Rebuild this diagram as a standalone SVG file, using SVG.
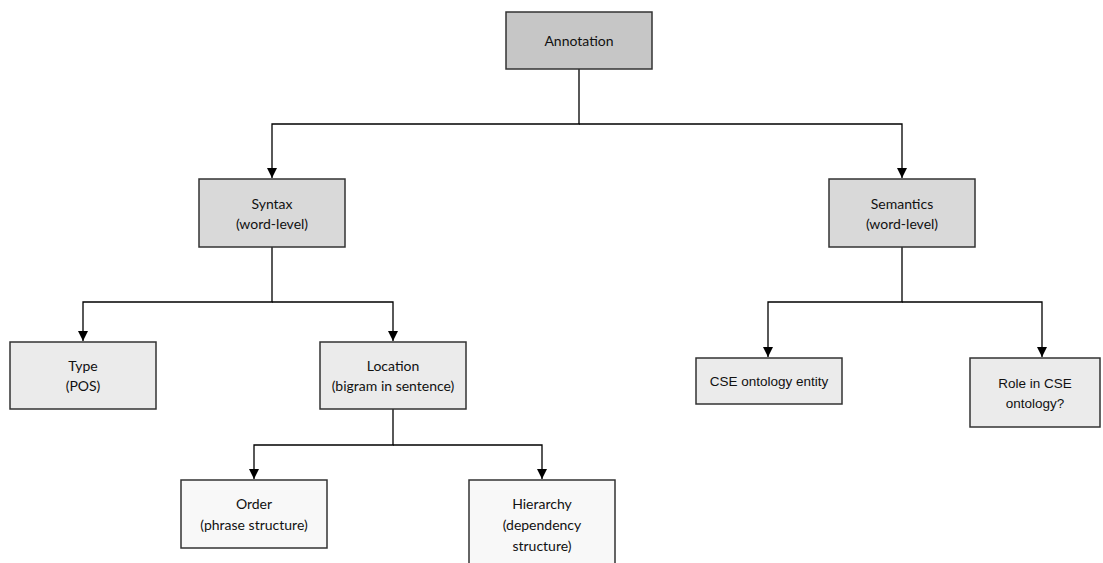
<svg xmlns="http://www.w3.org/2000/svg" width="1103" height="563" viewBox="0 0 1103 563">
<defs>
<marker id="arr" markerWidth="10" markerHeight="10" refX="10" refY="5" orient="auto" markerUnits="userSpaceOnUse" viewBox="0 0 10 10">
<path d="M0,0 L10,5 L0,10 Z" fill="#000"/>
</marker>
<style>
.box{stroke:#333;stroke-width:1.5}
.l1{fill:#c6c6c6}.l2{fill:#d9d9d9}.l3{fill:#ebebeb}.l4{fill:#f8f8f8}
text{font-family:Lato,"Noto Sans",sans-serif;font-size:14px;fill:#111;text-anchor:middle}
text.a{font-family:"Liberation Sans",Arial,sans-serif;font-size:13.5px}
.c{fill:none;stroke:#000;stroke-width:1.3}
</style>
</defs>
<rect width="1103" height="563" fill="#fff"/>
<g id="connectors">
<path class="c" d="M579,69 V124 H272 V178" marker-end="url(#arr)"/>
<path class="c" d="M579,124 H902 V178" marker-end="url(#arr)"/>
<path class="c" d="M272,247 V302 H83 V341" marker-end="url(#arr)"/>
<path class="c" d="M272,302 H393 V341" marker-end="url(#arr)"/>
<path class="c" d="M393,409 V445 H254 V479" marker-end="url(#arr)"/>
<path class="c" d="M393,445 H542 V479" marker-end="url(#arr)"/>
<path class="c" d="M902,247 V302 H768 V357" marker-end="url(#arr)"/>
<path class="c" d="M902,302 H1042 V357" marker-end="url(#arr)"/>
</g>
<g id="annotation"><rect class="box l1" x="506" y="12" width="146" height="57"/><text x="579" y="46">Annotation</text></g>
<g id="syntax"><rect class="box l2" x="199" y="179" width="146" height="68"/><text x="272" y="209">Syntax</text><text x="272" y="229">(word-level)</text></g>
<g id="semantics"><rect class="box l2" x="829" y="179" width="146" height="68"/><text x="902" y="209">Semantics</text><text x="902" y="229">(word-level)</text></g>
<g id="type"><rect class="box l3" x="10" y="342" width="146" height="67"/><text x="83" y="371">Type</text><text x="83" y="391">(POS)</text></g>
<g id="location"><rect class="box l3" x="320" y="342" width="146" height="67"/><text x="393" y="371">Location</text><text x="393" y="391">(bigram in sentence)</text></g>
<g id="order"><rect class="box l4" x="181" y="480" width="146" height="68"/><text x="254" y="509">Order</text><text x="254" y="530">(phrase structure)</text></g>
<g id="hierarchy"><rect class="box l4" x="469" y="480" width="146" height="90"/><text x="542" y="509">Hierarchy</text><text x="542" y="530">(dependency</text><text x="542" y="551">structure)</text></g>
<g id="cse-entity"><rect class="box l3" x="696" y="358" width="146" height="46"/><text class="a" x="769" y="386">CSE ontology entity</text></g>
<g id="cse-role"><rect class="box l3" x="970" y="358" width="130" height="69"/><text class="a" x="1035" y="388">Role in CSE</text><text class="a" x="1035" y="408">ontology?</text></g>
</svg>
